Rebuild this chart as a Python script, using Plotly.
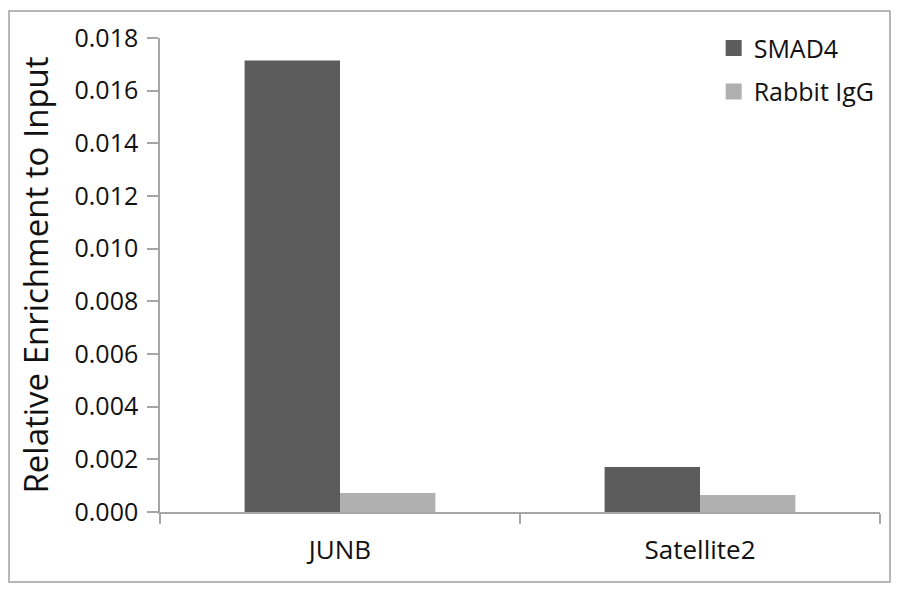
import plotly.graph_objects as go

categories = ["JUNB", "Satellite2"]
series_names = ["SMAD4", "Rabbit IgG"]
smad4 = [0.01715, 0.00171]
rabbit_igg = [0.00072, 0.00065]
y_ticks = [0.000, 0.002, 0.004, 0.006, 0.008, 0.010, 0.012, 0.014, 0.016, 0.018]

FONT = "Open Sans"
AXIS_COLOR = "#a6a6a6"
COLORS = ["#5c5c5c", "#b0b0b0"]
TXT = "#111111"

fig = go.Figure()
for name, vals, col in zip(series_names, [smad4, rabbit_igg], COLORS):
    fig.add_trace(go.Bar(name=name, x=categories, y=vals,
                         marker=dict(color=col, line=dict(width=0)),
                         showlegend=False))
# legend entries (larger square swatches)
for i, (name, col) in enumerate(zip(series_names, COLORS)):
    fig.add_trace(go.Scatter(name=name, x=[None], y=[None], mode="markers",
                             marker=dict(symbol="square", size=18, color=col),
                             legendgroup=f"g{i}", showlegend=True))

fig.update_layout(
    width=900, height=594,
    margin=dict(l=152, r=28, t=30, b=90),
    paper_bgcolor="white", plot_bgcolor="white",
    barmode="group", bargap=0.47, bargroupgap=0,
    font=dict(family=FONT, color=TXT),
    showlegend=True,
    legend=dict(x=0.769, y=1.027, xanchor="left", yanchor="top",
                font=dict(size=25, family=FONT, color=TXT),
                tracegroupgap=8, itemsizing="trace",
                bgcolor="rgba(0,0,0,0)"),
    xaxis=dict(showline=True, linecolor=AXIS_COLOR, linewidth=1.5,
               ticks="outside", tickson="boundaries", ticklen=10,
               tickcolor=AXIS_COLOR, tickwidth=1.5,
               tickfont=dict(size=26, family=FONT, color=TXT),
               ticklabelstandoff=14,
               showgrid=False, zeroline=False),
    yaxis=dict(range=[0, 0.018], tickvals=y_ticks, tickformat=".3f",
               showline=True, linecolor=AXIS_COLOR, linewidth=1.5,
               ticks="outside", ticklen=11, tickcolor=AXIS_COLOR, tickwidth=1.5,
               tickfont=dict(size=25, family=FONT, color=TXT),
               ticklabelstandoff=4,
               showgrid=False, zeroline=False,
               title=dict(text="Relative Enrichment to Input",
                          font=dict(size=33, family=FONT, color=TXT),
                          standoff=16)),
    shapes=[dict(type="rect", xref="paper", yref="paper",
                 x0=-0.2097, x1=1.0139, y0=-0.1477, y1=1.057,
                 line=dict(color="#a0a0a0", width=1.5), fillcolor="rgba(0,0,0,0)")],
)

fig.write_html("out.html")
